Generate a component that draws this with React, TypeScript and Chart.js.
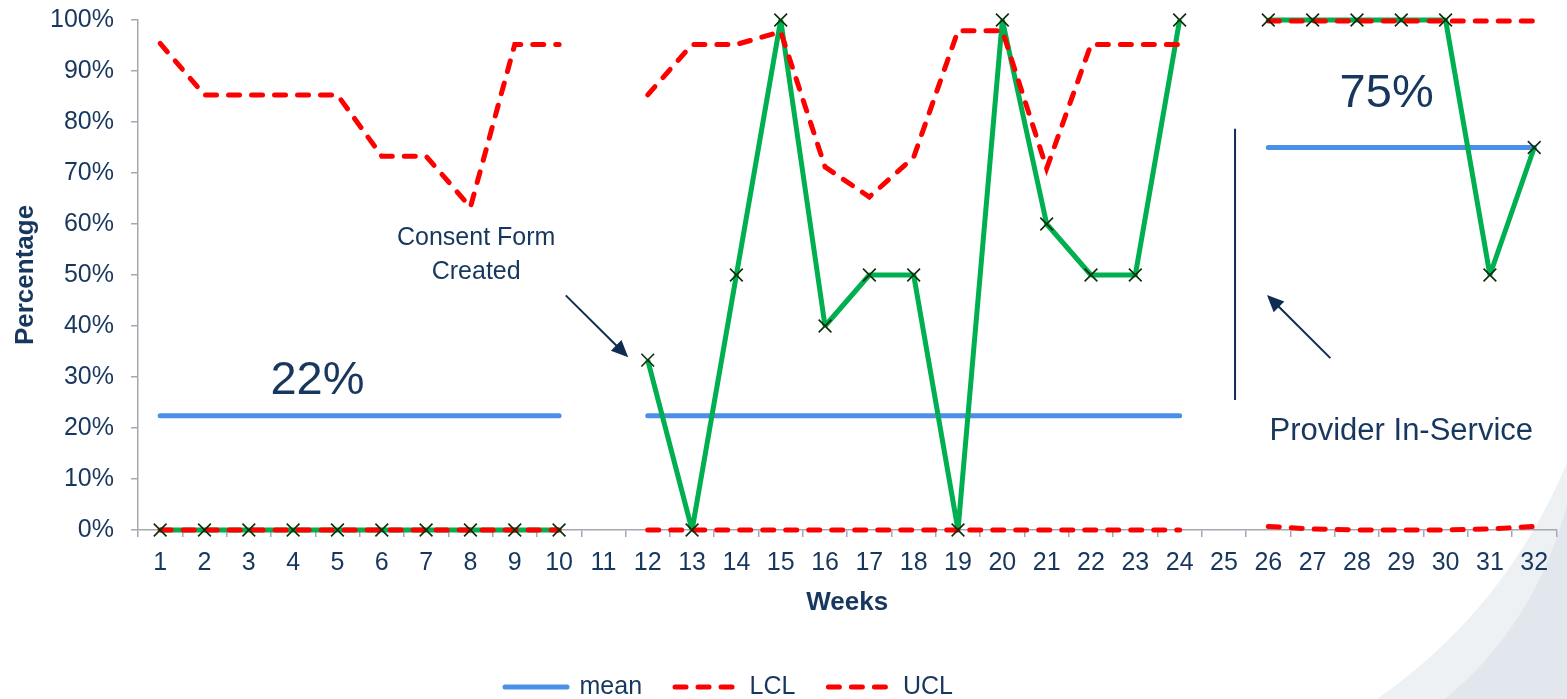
import React, { useEffect, useRef } from 'react';
import { Chart, registerables } from 'chart.js';

Chart.register(...registerables);

// ---------- data ----------
const weeks = ['1', '2', '3', '4', '5', '6', '7', '8', '9', '10', '11', '12', '13', '14', '15', '16',
  '17', '18', '19', '20', '21', '22', '23', '24', '25', '26', '27', '28', '29', '30', '31', '32'];

const percent = [0, 0, 0, 0, 0, 0, 0, 0, 0, 0, null, 33.3, 0, 50, 100, 40, 50, 50, 0, 100, 60, 50, 50, 100,
  null, 100, 100, 100, 100, 100, 50, 75];

const meanLine = [22.4, 22.4, 22.4, 22.4, 22.4, 22.4, 22.4, 22.4, 22.4, 22.4, null,
  22.4, 22.4, 22.4, 22.4, 22.4, 22.4, 22.4, 22.4, 22.4, 22.4, 22.4, 22.4, 22.4, null,
  75, 75, 75, 75, 75, 75, 75];

const lcl = [0, 0, 0, 0, 0, 0, 0, 0, 0, 0, null, 0, 0, 0, 0, 0, 0, 0, 0, 0, 0, 0, 0, 0, null,
  0.7, 0.2, 0, 0, 0, 0.2, 0.7];

const ucl = [95.4, 85.3, 85.3, 85.3, 85.3, 73.3, 73.3, 63.3, 95.2, 95.2, null,
  85.3, 95.2, 95.2, 97.7, 71.2, 65.3, 73.1, 97.9, 97.9, 70.9, 95.2, 95.2, 95.2, null,
  99.8, 99.8, 99.8, 99.8, 99.8, 99.8, 99.8];

const yTickValues = [0, 10, 20, 30, 40, 50, 60, 70, 80, 90, 100];

const legendNames = ['mean', 'LCL', 'UCL'];
const meanLabels = ['22%', '75%'];
const consentText = ['Consent Form', 'Created'];
const providerText = 'Provider In-Service';

// ---------- style ----------
const FONT = '"Liberation Sans", Arial, Helvetica, sans-serif';
const NAVY = '#17375E';
const ARROW = '#0F2D52';
const AXIS = '#A5A8B0';
const BLUE = '#4A8FE8';
const RED = '#FF0000';
const GREEN = '#00B050';
const MARK = '#0A2E0A';

export default function App() {
  const ref = useRef<HTMLCanvasElement>(null);

  useEffect(() => {
    const canvas = ref.current;
    if (!canvas) return;

    const bgPlugin = {
      id: 'bgSwoosh',
      beforeDraw(chart: any) {
        const ctx = chart.ctx;
        const w = chart.width;
        const h = chart.height;
        ctx.save();
        ctx.fillStyle = '#FFFFFF';
        ctx.fillRect(0, 0, w, h);
        ctx.fillStyle = '#EDF1F4';
        ctx.beginPath();
        ctx.moveTo(1377, h);
        ctx.quadraticCurveTo(1505, 610, w, 463);
        ctx.lineTo(w, h);
        ctx.closePath();
        ctx.fill();
        ctx.fillStyle = '#E1E7EC';
        ctx.beginPath();
        ctx.moveTo(1445, h);
        ctx.quadraticCurveTo(1535, 625, w, 505);
        ctx.lineTo(w, h);
        ctx.closePath();
        ctx.fill();
        ctx.restore();
      },
    };

    const legendShift = {
      id: 'legendShift',
      afterLayout(chart: any) {
        const l = chart.legend;
        if (!l || !l.lineWidths) return;
        const p = l.options.labels.padding;
        const startX = (l.left + p + l.right - l.lineWidths[0]) / 2;
        const dx = 505 - startX;
        const dy = (687 - p - 12.5) - l.top;
        l.left += dx;
        l.right += dx;
        l.top += dy;
        l.bottom += dy;
      },
    };

    const annotations = {
      id: 'annotations',
      afterDraw(chart: any) {
        const { ctx } = chart;
        const x = chart.scales.x;
        const y = chart.scales.y;
        const X = (i: number) => x.getPixelForValue(i);
        const Y = (v: number) => y.getPixelForValue(v);
        ctx.save();
        ctx.fillStyle = NAVY;
        ctx.textAlign = 'center';
        ctx.textBaseline = 'alphabetic';

        ctx.font = `47px ${FONT}`;
        ctx.fillText(meanLabels[0], X(3.55), Y(26.6));
        ctx.fillText(meanLabels[1], X(27.67), Y(82.9));

        ctx.font = `25px ${FONT}`;
        ctx.fillText(consentText[0], X(7.13), Y(55.8));
        ctx.fillText(consentText[1], X(7.13), Y(49.25));

        ctx.font = `31px ${FONT}`;
        ctx.fillText(providerText, X(28.0), Y(17.7));

        const arrow = (x1: number, y1: number, x2: number, y2: number) => {
          const ang = Math.atan2(y2 - y1, x2 - x1);
          const L = 17;
          const W = 7.5;
          const bx = x2 - L * Math.cos(ang);
          const by = y2 - L * Math.sin(ang);
          ctx.strokeStyle = ARROW;
          ctx.fillStyle = ARROW;
          ctx.lineWidth = 2;
          ctx.beginPath();
          ctx.moveTo(x1, y1);
          ctx.lineTo(bx + 2 * Math.cos(ang), by + 2 * Math.sin(ang));
          ctx.stroke();
          ctx.beginPath();
          ctx.moveTo(x2, y2);
          ctx.lineTo(bx + W * Math.sin(ang), by - W * Math.cos(ang));
          ctx.lineTo(bx - W * Math.sin(ang), by + W * Math.cos(ang));
          ctx.closePath();
          ctx.fill();
        };
        arrow(X(9.15), Y(46.0), X(10.56), Y(33.85));
        arrow(X(26.4), Y(33.7), X(24.97), Y(46.1));

        ctx.strokeStyle = ARROW;
        ctx.lineWidth = 2;
        ctx.beginPath();
        ctx.moveTo(X(24.25), Y(78.7));
        ctx.lineTo(X(24.25), Y(25.5));
        ctx.stroke();
        ctx.restore();
      },
    };

    const chart = new Chart(canvas, {
      type: 'line',
      data: {
        labels: weeks,
        datasets: [
          {
            label: legendNames[0], data: meanLine, borderColor: BLUE, backgroundColor: BLUE,
            borderWidth: 5, borderCapStyle: 'round', pointRadius: 0, spanGaps: false, order: 5,
          },
          {
            label: legendNames[1], data: lcl, borderColor: RED, backgroundColor: RED,
            borderWidth: 5, borderDash: [11, 12], borderCapStyle: 'round', pointRadius: 0, order: 3, clip: false,
          },
          {
            label: legendNames[2], data: ucl, borderColor: RED, backgroundColor: RED,
            borderWidth: 5, borderDash: [11, 12], borderCapStyle: 'round', pointRadius: 0, order: 2, clip: false,
          },
          {
            label: 'Percentage', data: percent, borderColor: GREEN, backgroundColor: GREEN,
            borderWidth: 5, borderJoinStyle: 'bevel', pointRadius: 0, order: 4, clip: false,
          },
          {
            label: 'markers', data: percent, showLine: false, pointStyle: 'crossRot', pointRadius: 9,
            pointBorderColor: MARK, pointBackgroundColor: 'rgba(0,0,0,0)', pointBorderWidth: 1.6,
            borderColor: MARK, order: 1, clip: false,
          },
        ] as any,
      },
      options: {
        responsive: false,
        animation: false,
        events: [],
        layout: { padding: { left: 0, right: 7, top: 20, bottom: 13 } },
        plugins: {
          tooltip: { enabled: false },
          legend: {
            display: true,
            position: 'bottom',
            labels: {
              usePointStyle: true,
              pointStyleWidth: 62,
              padding: 33,
              color: NAVY,
              font: { size: 25, family: FONT },
              generateLabels: (ch: any) => {
                return ch.data.datasets
                  .map((ds: any, i: number) => ({ ds, i }))
                  .filter((o: any) => o.i < 3)
                  .map((o: any) => ({
                    text: o.ds.label,
                    datasetIndex: o.i,
                    fillStyle: o.ds.borderColor,
                    strokeStyle: o.ds.borderColor,
                    lineWidth: o.ds.borderWidth,
                    lineCap: 'round',
                    lineDash: o.ds.borderDash || [],
                    lineDashOffset: 0,
                    lineJoin: 'miter',
                    pointStyle: 'line',
                    rotation: 0,
                    hidden: false,
                    fontColor: NAVY,
                  }));
              },
            },
          },
        },
        scales: {
          x: {
            type: 'category',
            offset: true,
            grid: {
              display: true, offset: true, drawOnChartArea: false, drawTicks: true,
              tickLength: 7, color: AXIS, lineWidth: 1.5,
            },
            border: { display: true, color: AXIS, width: 1.5 },
            ticks: {
              color: NAVY, font: { size: 25, family: FONT, lineHeight: 1.15 }, padding: 12,
              autoSkip: false, maxRotation: 0, minRotation: 0,
            },
            title: {
              display: true, text: 'Weeks', color: NAVY,
              font: { size: 26, weight: 'bold', family: FONT, lineHeight: 1.2 },
              padding: { top: 0, bottom: 0 },
            },
            afterFit: (s: any) => { s.height = 88; },
          },
          y: {
            min: 0,
            max: 100,
            afterBuildTicks: (s: any) => { s.ticks = yTickValues.map((v) => ({ value: v })); },
            grid: {
              display: true, drawOnChartArea: false, drawTicks: true,
              tickLength: 7, color: AXIS, lineWidth: 1.5,
            },
            border: { display: true, color: AXIS, width: 1.5 },
            ticks: {
              color: NAVY, font: { size: 25, family: FONT }, padding: 17,
              callback: (v: any) => `${v}%`,
            },
            title: {
              display: true, text: 'Percentage', color: NAVY,
              font: { size: 26, weight: 'bold', family: FONT, lineHeight: 1.2 },
              padding: { top: 10, bottom: 0 },
            },
            afterFit: (s: any) => {
              s.width = 138;
              s.paddingTop = 0;
              s.paddingBottom = 0;
            },
          },
        },
      } as any,
      plugins: [bgPlugin, legendShift, annotations],
    });

    return () => { chart.destroy(); };
  }, []);

  return (
    <div style={{ position: 'fixed', left: 0, top: 0, width: 1567, height: 699, background: '#FFFFFF' }}>
      <canvas ref={ref} width={1567} height={699} style={{ display: 'block', width: 1567, height: 699 }} />
    </div>
  );
}
